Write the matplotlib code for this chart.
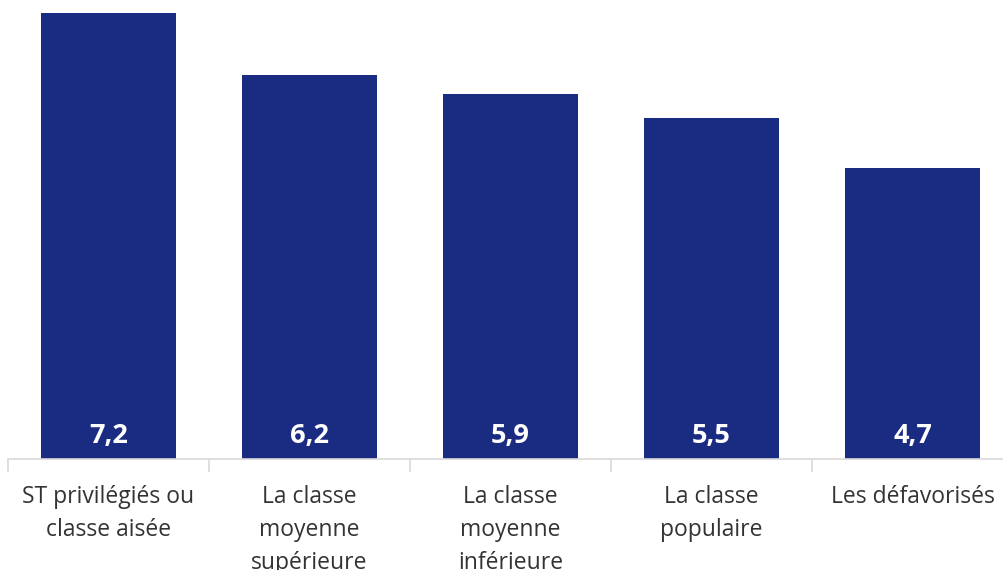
import matplotlib.pyplot as plt
import numpy as np

# data
categories = ["ST privilégiés ou\nclasse aisée", "La classe\nmoyenne\nsupérieure",
              "La classe\nmoyenne\ninférieure", "La classe\npopulaire", "Les défavorisés"]
values = [7.2, 6.2, 5.9, 5.5, 4.7]
value_labels = ["7,2", "6,2", "5,9", "5,5", "4,7"]

BAR_COLOR = "#1a2b82"
plt.rcParams['font.family'] = ['Open Sans', 'DejaVu Sans']

fig = plt.figure(figsize=(10.04, 5.70), dpi=100)
ax = fig.add_axes([8 / 1004, (570 - 459) / 570, 1005 / 1004, 459 / 570])

x = np.arange(len(categories))
ax.bar(x, values, width=0.67, color=BAR_COLOR, zorder=2)

# value labels near the bottom of each bar
for xi, lab in zip(x, value_labels):
    ax.text(xi, 0.37, lab, ha="center", va="center", color="white",
            fontsize=19.5, fontweight="bold")

ax.set_xlim(-0.5, len(categories) - 0.5)
ax.set_ylim(0, 7.2 * 459 / 446)

for s in ["top", "right", "left"]:
    ax.spines[s].set_visible(False)
ax.spines["bottom"].set_color("#d9d9d9")
ax.spines["bottom"].set_linewidth(1.2)
ax.set_yticks([])

ax.set_xticks(x)
ax.set_xticklabels(categories, fontsize=16.5, color="#333333", linespacing=1.5)
ax.tick_params(axis="x", which="major", length=0, pad=19)
ax.set_xticks(np.arange(-0.5, len(categories), 1.0), minor=True)
ax.tick_params(axis="x", which="minor", length=9, width=1.2, color="#d9d9d9")
for t in ax.get_xticklabels():
    t.set_verticalalignment("top")

fig.savefig("out.png", dpi=100)
